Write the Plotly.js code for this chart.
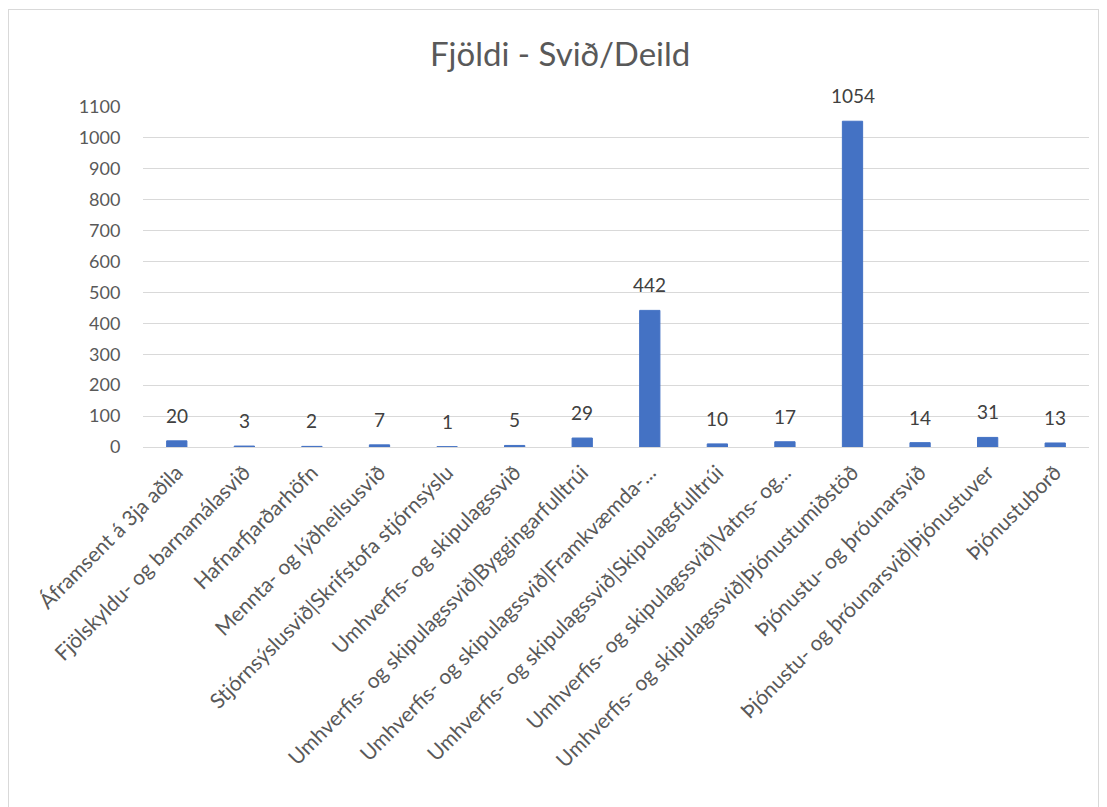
<!DOCTYPE html>
<html>
<head>
<meta charset="utf-8">
<script src="https://cdn.plot.ly/plotly-3.0.1.min.js"></script>
<style>
html,body{margin:0;padding:0;background:#fff;}
#frame{position:absolute;left:8px;top:9px;width:1091px;height:820px;border:1px solid #d9d9d9;box-sizing:border-box;pointer-events:none;}
#chart{position:absolute;left:0;top:0;width:1107px;height:807px;}
</style>
</head>
<body>
<div id="chart"></div>
<div id="frame"></div>
<script>
const categories = [
  "Áframsent á 3ja aðila",
  "Fjölskyldu- og barnamálasvið",
  "Hafnarfjarðarhöfn",
  "Mennta- og lýðheilsusvið",
  "Stjórnsýslusvið|Skrifstofa stjórnsýslu",
  "Umhverfis- og skipulagssvið",
  "Umhverfis- og skipulagssvið|Byggingarfulltrúi",
  "Umhverfis- og skipulagssvið|Framkvæmda-...",
  "Umhverfis- og skipulagssvið|Skipulagsfulltrúi",
  "Umhverfis- og skipulagssvið|Vatns- og...",
  "Umhverfis- og skipulagssvið|Þjónustumiðstöð",
  "Þjónustu- og þróunarsvið",
  "Þjónustu- og þróunarsvið|Þjónustuver",
  "Þjónustuborð"
];
const values = [20, 3, 2, 7, 1, 5, 29, 442, 10, 17, 1054, 14, 31, 13];
const yTicks = [0,100,200,300,400,500,600,700,800,900,1000,1100];

const font = "Lato, 'Open Sans', sans-serif";
const barColor = "#4472c4";

const trace = {
  type: "bar",
  x: categories,
  y: values,
  marker: {color: barColor, line: {color: barColor, width: 1}},
  width: 0.3,
  hoverinfo: "x+y"
};

const annotations = categories.map((c, i) => ({
  x: c, y: values[i], xref: "x", yref: "y",
  text: String(values[i]), showarrow: false,
  yanchor: "bottom", yshift: 12,
  font: {family: font, size: 19, color: "#404040"}
}));

const layout = {
  width: 1107, height: 807,
  margin: {l: 143, r: 18, t: 107, b: 360},
  paper_bgcolor: "#ffffff",
  plot_bgcolor: "#ffffff",
  showlegend: false,
  title: {
    text: "Fjöldi - Svið/Deild",
    x: 0.506, xanchor: "center", xref: "container",
    y: 0.932, yanchor: "middle", yref: "container",
    font: {family: font, size: 33, color: "#595959"}
  },
  xaxis: {
    type: "category",
    tickangle: -45,
    tickfont: {family: font, size: 21, color: "#595959"},
    showline: true, linecolor: "#d9d9d9", linewidth: 1,
    ticks: "outside", ticklen: 4, tickcolor: "rgba(0,0,0,0)",
    showgrid: false, zeroline: false,
    automargin: false
  },
  yaxis: {
    range: [0, 1100],
    tickvals: yTicks,
    ticktext: yTicks.map(String),
    tickfont: {family: font, size: 18, color: "#595959"},
    gridcolor: "#d9d9d9", gridwidth: 1,
    showline: false, zeroline: false,
    ticks: "outside", ticklen: 18, tickcolor: "rgba(0,0,0,0)",
    automargin: false
  },
  annotations: annotations
};

Plotly.newPlot("chart", [trace], layout, {displayModeBar: false, staticPlot: true});
</script>
</body>
</html>
